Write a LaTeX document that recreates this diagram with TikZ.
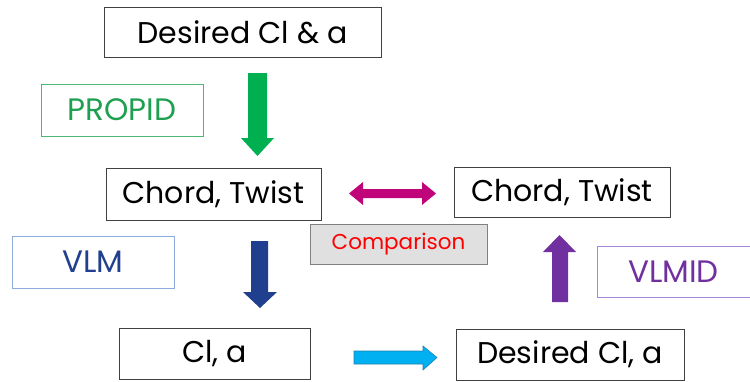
\documentclass[tikz,border=0pt]{standalone}
\usepackage{fontspec}
\setmainfont{Poppins}
\usetikzlibrary{shadows}
\definecolor{greenarrow}{HTML}{00B050}
\definecolor{greentext}{HTML}{1FA050}
\definecolor{greenframe}{HTML}{4CB873}
\definecolor{navy}{HTML}{203F8F}
\definecolor{blueframe}{HTML}{8FAADC}
\definecolor{magentaarrow}{HTML}{C0047A}
\definecolor{cyanarrow}{HTML}{00B0F0}
\definecolor{cyanedge}{HTML}{2080B0}
\definecolor{purplearrow}{HTML}{7030A0}
\definecolor{purpleframe}{HTML}{A888D8}
\definecolor{boxedge}{HTML}{404040}
\begin{document}
\begin{tikzpicture}[x=1pt,y=-1pt,
  valuebox/.style={draw=boxedge,line width=0.9pt,fill=white,minimum height=50pt,
    inner sep=0pt,font=\fontsize{30}{33}\selectfont},
  toolbox/.style={line width=0.9pt,fill=white,minimum height=52pt,minimum width=162pt,
    inner sep=0pt,font=\fontsize{31}{34}\selectfont},
  blockarrow/.style={draw=none}]
\useasboundingbox (0,0) rectangle (750,381);

% result boxes
\node[valuebox,minimum width=277pt] (top) at (242.5,32) {Desired Cl \& a};
\node[valuebox,minimum width=215pt,minimum height=52pt] (chordL) at (213.5,194) {Chord, Twist};
\node[valuebox,minimum width=216pt] (chordR) at (562,192) {Chord, Twist};
\node[valuebox,minimum width=191pt,minimum height=51pt] (cla) at (214.5,353.5) {Cl, a};
\node[valuebox,minimum width=228pt,minimum height=51pt] (dcla) at (570,354.5) {Desired Cl, a};

% tool labels
\node[toolbox,draw=greenframe,text=greentext] (propid) at (122,110) {PROPID};
\node[toolbox,draw=blueframe,text=navy] (vlm) at (93,262) {VLM};
\node[toolbox,draw=purpleframe,text=purplearrow,minimum width=153pt,minimum height=51pt] (vlmid) at (673.5,271.5) {VLMID};
\node[draw=gray,line width=0.9pt,fill=black!12,minimum width=177pt,minimum height=40pt,
  inner sep=0pt,text=red,font=\fontsize{21.5}{24}\selectfont,
  drop shadow={shadow xshift=1pt,shadow yshift=-1pt,opacity=0.3}] (cmp) at (398.5,244) {Comparison};

% block arrows
\fill[greenarrow] (248,73) -- (267,73) -- (267,138) -- (274,138) -- (257.5,156)
  -- (241,138) -- (248,138) -- cycle;
\fill[navy] (251,241) -- (268,241) -- (268,292) -- (277,292) -- (260,308)
  -- (243,292) -- (251,292) -- cycle;
\fill[purplearrow] (552,302) -- (568,302) -- (568,252) -- (576,252) -- (559.5,235)
  -- (543,252) -- (552,252) -- cycle;
\filldraw[fill=cyanarrow,draw=cyanedge,line width=0.6pt] (354,351) -- (423,351) -- (423,346)
  -- (437,357.5) -- (423,370) -- (423,364) -- (354,364) -- cycle;
\fill[magentaarrow] (349,193.5) -- (363,182) -- (363,189) -- (422,189) -- (422,182)
  -- (436,193.5) -- (422,205) -- (422,198) -- (363,198) -- (363,205) -- cycle;
\end{tikzpicture}
\end{document}
